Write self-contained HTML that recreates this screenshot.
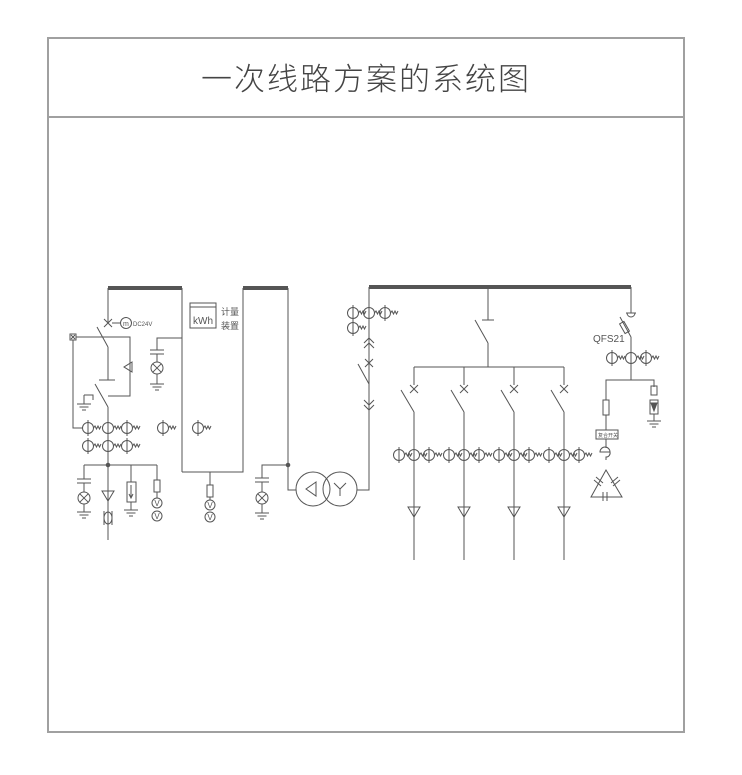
<!DOCTYPE html>
<html><head><meta charset="utf-8"><style>
body{margin:0;background:#fff;}
.f{position:absolute;left:47px;top:37px;width:634px;height:692px;border:2px solid #a0a0a0;}
.t{position:absolute;left:0;top:0;width:634px;height:77px;border-bottom:2px solid #a0a0a0;text-align:center;line-height:82px;font-size:31px;color:#444;font-family:"Liberation Sans","Noto Sans CJK SC",sans-serif;font-weight:300;letter-spacing:2px;}
svg{position:absolute;left:0;top:0;}
</style></head><body>
<div class="f"><div class="t">一次线路方案的系统图</div></div>
<svg width="742" height="775" viewBox="0 0 742 775" font-family="Liberation Sans, Noto Sans CJK SC, sans-serif">
<defs>
<g id="ct" fill="none" stroke="#555" stroke-width="1"><circle r="5.5"/><line x1="0" y1="-8" x2="0" y2="8"/><path d="M5.5 0 l1.5 -2 l1.5 3 l1.5 -3 l1.5 3 l1.5 -3"/></g>
<g id="cap" fill="none" stroke="#555"><line x1="-7" y1="0" x2="7" y2="0"/><line x1="-7" y1="4" x2="7" y2="4"/></g>
<g id="lamp" fill="none" stroke="#555"><circle r="6"/><line x1="-4.2" y1="-4.2" x2="4.2" y2="4.2"/><line x1="4.2" y1="-4.2" x2="-4.2" y2="4.2"/></g>
<g id="gnd" fill="none" stroke="#555"><line x1="-7" y1="0" x2="7" y2="0"/><line x1="-4.5" y1="3" x2="4.5" y2="3"/><line x1="-2" y1="6" x2="2" y2="6"/></g>
<g id="tri" fill="none" stroke="#555"><path d="M-6 0 L6 0 L0 10 Z"/></g>
<g id="x"><path d="M-4 -4 L4 4 M4 -4 L-4 4" stroke="#555"/></g>
</defs>
<g stroke="#555" stroke-width="1" fill="none">
<line x1="108" y1="288" x2="182" y2="288" stroke-width="4"/>
<line x1="243" y1="288" x2="288" y2="288" stroke-width="4"/>
<line x1="369" y1="287" x2="631" y2="287" stroke-width="4"/>
<line x1="108" y1="288" x2="108" y2="323"/>
<use href="#x" x="108" y="323"/>
<line x1="112" y1="323" x2="120" y2="323"/>
<circle cx="126" cy="323" r="5.5"/>
<line x1="97" y1="327" x2="108" y2="347"/>
<line x1="108" y1="347" x2="108" y2="380"/>
<line x1="99" y1="380" x2="115" y2="380"/>
<line x1="95" y1="384" x2="108" y2="407"/>
<line x1="108" y1="407" x2="108" y2="540"/>
<rect x="70" y="334" width="6" height="6"/>
<path d="M71 335 l4 4 M75 335 l-4 4"/>
<polyline points="76,337 130,337 130,396 108,396"/>
<path d="M132 362 L124 367 L132 372 Z"/>
<polyline points="73,340 73,428 82,428"/>
<polyline points="84,395 93,395 93,400"/>
<line x1="84" y1="395" x2="84" y2="404"/>
<use href="#gnd" x="84" y="404"/>
<use href="#ct" x="88" y="428"/><use href="#ct" x="108" y="428"/><use href="#ct" x="127" y="428"/>
<use href="#ct" x="88" y="446"/><use href="#ct" x="108" y="446"/><use href="#ct" x="127" y="446"/>
<use href="#ct" x="163" y="428"/><use href="#ct" x="198" y="428"/>
<line x1="84" y1="465" x2="157" y2="465"/>
<circle cx="108" cy="465" r="1.8" fill="#555"/>
<line x1="84" y1="465" x2="84" y2="479"/><use href="#cap" x="84" y="479"/>
<line x1="84" y1="483" x2="84" y2="492"/><use href="#lamp" x="84" y="498"/>
<line x1="84" y1="504" x2="84" y2="512"/><use href="#gnd" x="84" y="512"/>
<use href="#tri" x="108" y="491"/>
<ellipse cx="108" cy="518" rx="4" ry="6"/><line x1="104" y1="511" x2="104" y2="525"/><line x1="112" y1="511" x2="112" y2="525"/>
<line x1="131" y1="465" x2="131" y2="482"/>
<rect x="127" y="482" width="9" height="20"/>
<path d="M131 485 L131 497 M129 494 L131 498 L133 494" />
<line x1="131" y1="502" x2="131" y2="510"/><use href="#gnd" x="131" y="510"/>
<line x1="157" y1="465" x2="157" y2="480"/>
<rect x="154" y="480" width="6" height="12"/>
<line x1="157" y1="492" x2="157" y2="498"/>
<circle cx="157" cy="503" r="5"/><circle cx="157" cy="516" r="5"/>
<line x1="182" y1="288" x2="182" y2="472"/>
<polyline points="182,472 243,472 243,288"/>
<polyline points="157,350 157,338 182,338"/>
<use href="#cap" x="157" y="350"/>
<line x1="157" y1="354" x2="157" y2="362"/><use href="#lamp" x="157" y="368"/>
<line x1="157" y1="374" x2="157" y2="384"/><use href="#gnd" x="157" y="384"/>
<rect x="190" y="303" width="26" height="25"/><line x1="190" y1="307" x2="216" y2="307"/>
<line x1="210" y1="472" x2="210" y2="485"/><rect x="207" y="485" width="6" height="12"/>
<line x1="210" y1="497" x2="210" y2="500"/>
<circle cx="210" cy="505" r="5"/><circle cx="210" cy="517" r="5"/>
<polyline points="288,288 288,490 296,490"/>
<circle cx="288" cy="465" r="1.8" fill="#555"/>
<polyline points="288,465 262,465 262,478"/>
<use href="#cap" x="262" y="478"/>
<line x1="262" y1="482" x2="262" y2="492"/><use href="#lamp" x="262" y="498"/>
<line x1="262" y1="504" x2="262" y2="513"/><use href="#gnd" x="262" y="513"/>
<circle cx="313" cy="489" r="17"/><circle cx="340" cy="489" r="17"/>
<path d="M316 482 L306 489 L316 496 Z"/>
<path d="M334 483 L340 489 L346 483 M340 489 L340 496"/>
<polyline points="357,490 369,490 369,287"/>
<use href="#ct" x="353" y="313"/><use href="#ct" x="369" y="313"/><use href="#ct" x="385" y="313"/>
<use href="#ct" x="353" y="328"/>
<path d="M364 343 L369 338 L374 343 M364 348 L369 343 L374 348"/>
<use href="#x" x="369" y="363"/>
<line x1="358" y1="364" x2="369" y2="384"/>
<path d="M364 400 L369 405 L374 400 M364 405 L369 410 L374 405"/>
<line x1="488" y1="287" x2="488" y2="320"/>
<line x1="482" y1="320" x2="494" y2="320"/>
<line x1="475" y1="320" x2="488" y2="343"/>
<line x1="488" y1="343" x2="488" y2="367"/>
<line x1="414" y1="367" x2="564" y2="367"/>
<g id="fd">
<line x1="414" y1="367" x2="414" y2="385"/>
<use href="#x" x="414" y="389"/>
<line x1="401" y1="390" x2="414" y2="412"/>
<line x1="414" y1="412" x2="414" y2="560"/>
<use href="#ct" x="399" y="455"/><use href="#ct" x="414" y="455"/><use href="#ct" x="429" y="455"/>
<use href="#tri" x="414" y="507"/>
</g>
<use href="#fd" x="50"/><use href="#fd" x="100"/><use href="#fd" x="150"/>
<line x1="631" y1="287" x2="631" y2="313"/>
<line x1="626" y1="313" x2="636" y2="313"/><path d="M627 313 a4 4 0 0 0 8 0"/>
<line x1="620" y1="317" x2="631" y2="337"/>
<rect x="622" y="322" width="5" height="11" transform="rotate(-30 624.5 327.5)"/>
<line x1="631" y1="337" x2="631" y2="380"/>
<use href="#ct" x="612" y="358"/><use href="#ct" x="631" y="358"/><use href="#ct" x="646" y="358"/>
<polyline points="606,420 606,380 654,380 654,387"/>
<rect x="603" y="400" width="6" height="15" fill="#fff"/>
<rect x="651" y="386" width="6" height="9"/>
<rect x="650" y="400" width="8" height="14"/><path d="M651 403 L657 403 L654 411 Z" fill="#555"/>
<line x1="654" y1="414" x2="654" y2="421"/><use href="#gnd" x="654" y="421"/>
<line x1="606" y1="420" x2="606" y2="430"/>
<rect x="596" y="430" width="22" height="9"/>
<line x1="606" y1="439" x2="606" y2="448"/>
<path d="M600 452 a5 5 0 1 1 10 0 Z"/><path d="M610 452 a4 4 0 0 1 -4 5 L606 460"/>
<path d="M606 470 L591 497 L622 497 Z" fill="#fff"/>
<line x1="603" y1="492" x2="603" y2="501"/><line x1="607" y1="492" x2="607" y2="501"/>
<line x1="594" y1="480" x2="601" y2="486"/><line x1="596" y1="477" x2="603" y2="483"/>
<line x1="611" y1="483" x2="618" y2="477"/><line x1="613" y1="486" x2="620" y2="480"/>
</g>
<g fill="#555" font-size="8" text-anchor="middle">
<text x="157" y="506">V</text><text x="157" y="519">V</text>
<text x="210" y="508">V</text><text x="210" y="520">V</text>
</g>
<g fill="#555" font-size="7"><text x="133" y="326" font-size="6">DC24V</text><text x="123" y="326" font-size="7">m</text></g>
<text x="193" y="324" font-size="10" fill="#555">kWh</text>
<text x="221" y="315" font-size="9" fill="#555">计量</text>
<text x="221" y="329" font-size="9" fill="#555">装置</text>
<text x="593" y="342" font-size="10" fill="#555">QFS21</text>
<text x="598" y="437" font-size="5" fill="#555">复合开关</text>
</svg>
</body></html>
